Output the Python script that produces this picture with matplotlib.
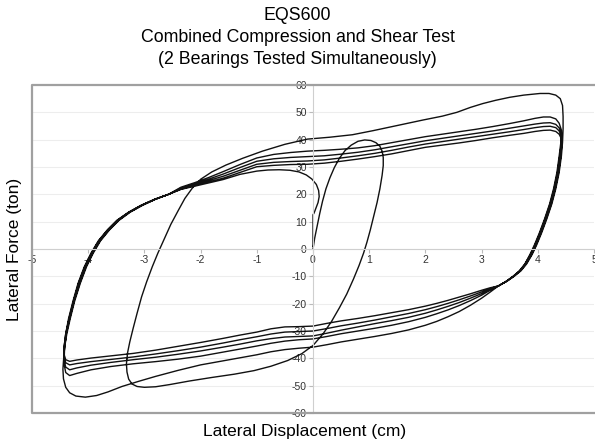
"""EQS600 combined compression and shear test - hysteresis loops."""

import matplotlib

matplotlib.use("Agg")
import matplotlib.pyplot as plt
import numpy as np

plt.rcParams["font.family"] = ["Liberation Sans", "DejaVu Sans"]
plt.rcParams["axes.unicode_minus"] = False

# first small cycle from the origin, back to -3.3 cm, then the first big push
inner_disp = [0.0, 0.03, 0.07, 0.12, 0.17, 0.23, 0.3, 0.38, 0.47, 0.57, 0.68, 0.8,
              0.92, 1.03, 1.12, 1.19, 1.23, 1.25, 1.25, 1.23, 1.19, 1.14, 1.08, 1.02,
              0.96, 0.9, 0.82, 0.72, 0.6, 0.47, 0.33, 0.18, 0.0, -0.2, -0.45, -0.75,
              -1.05, -1.4, -1.8, -2.2, -2.55, -2.8, -3.0, -3.13, -3.22, -3.28, -3.31,
              -3.32, -3.3, -3.26, -3.2, -3.13, -3.05, -2.96, -2.86, -2.76, -2.65,
              -2.53, -2.4, -2.28, -2.15, -2.0, -1.8, -1.55, -1.25, -0.9, -0.5, -0.1,
              0.3, 0.7, 1.07, 1.5, 1.96, 2.3, 2.56, 2.8, 3.02, 3.25, 3.5, 3.75, 4.04,
              4.2, 4.32, 4.4, 4.44, 4.45, 4.45]
inner_force = [0.0, 4.0, 8.0, 13.0, 17.5, 22.0, 26.0, 29.8, 33.2, 36.0, 38.0, 39.4,
               39.9, 39.7, 38.9, 37.6, 35.8, 33.5, 30.5, 27.0, 22.0, 17.0, 12.0, 7.0,
               2.5, -1.5, -6.0, -11.0, -16.5, -21.5, -26.5, -31.0, -35.3, -38.3, -40.8,
               -42.9, -44.5, -45.8, -47.0, -48.3, -49.6, -50.4, -50.6, -50.3, -49.4,
               -47.6, -45.0, -42.0, -38.0, -34.0, -29.0, -23.5, -17.5, -12.0, -6.5,
               -1.5, 3.5, 9.0, 14.0, 18.5, 22.2, 25.5, 28.2, 30.7, 33.2, 35.8, 38.3,
               40.2, 40.9, 41.8, 43.3, 45.2, 47.2, 48.6, 50.0, 51.8, 53.2, 54.4, 55.5,
               56.3, 56.9, 56.9, 56.3, 55.0, 52.5, 48.5, 44.0]

# unloading drop at the right end (shared shape)
desc_force = [39.0, 34.0, 28.0, 22.0, 16.5, 11.0, 6.0, 1.5, -2.0, -5.5, -8.0, -10.0,
              -11.8, -13.5]
c1_desc_disp = [4.44, 4.42, 4.38, 4.32, 4.25, 4.16, 4.07, 3.98, 3.90, 3.80, 3.70, 3.58,
                3.45, 3.30]
c2_desc_disp = [4.43, 4.41, 4.37, 4.31, 4.24, 4.15, 4.06, 3.97, 3.89, 3.79, 3.69, 3.57,
                3.45, 3.30]
c3_desc_disp = [4.42, 4.40, 4.36, 4.30, 4.23, 4.14, 4.05, 3.96, 3.88, 3.78, 3.68, 3.57,
                3.44, 3.30]
c4_desc_disp = [4.42, 4.39, 4.35, 4.29, 4.22, 4.13, 4.04, 3.95, 3.87, 3.77, 3.68, 3.56,
                3.44, 3.30]
c5_desc_disp = [4.41, 4.38, 4.34, 4.28, 4.21, 4.12, 4.03, 3.94, 3.86, 3.77, 3.67, 3.56,
                3.44, 3.30]

# lower branches, right to left
c1_low_disp = [3.15, 3.0, 2.8, 2.6, 2.4, 2.2, 2.0, 1.7, 1.4, 1.1, 0.8, 0.5, 0.25, 0.0,
               -0.25, -0.5, -0.75, -1.0, -1.3, -1.6, -2.0, -2.4, -2.8, -3.1, -3.4,
               -3.65, -3.85, -4.05, -4.22, -4.33, -4.4, -4.44, -4.45, -4.44]
c1_low_force = [-15.8, -18.0, -20.6, -22.9, -24.8, -26.5, -27.9, -29.6, -30.9, -32.0,
                -33.0, -34.0, -35.0, -35.9, -36.3, -36.8, -37.6, -38.7, -39.8, -40.9,
                -42.4, -44.4, -46.6, -48.4, -50.3, -52.3, -53.6, -54.2, -53.8, -52.6,
                -50.6, -47.5, -44.0, -41.0]
low_disp = [3.15, 3.0, 2.8, 2.6, 2.4, 2.2, 2.0, 1.7, 1.4, 1.1, 0.8, 0.5, 0.25, 0.0,
            -0.25, -0.5, -0.75, -1.0, -1.3, -1.6, -2.0, -2.4, -2.8, -3.2, -3.6, -3.95,
            -4.2, -4.33, -4.4, -4.43]
c2_low_force = [-15.1, -16.9, -18.9, -20.7, -22.3, -23.7, -25.0, -26.6, -27.9, -29.0,
                -30.0, -31.0, -32.0, -32.9, -33.2, -33.7, -34.5, -35.5, -36.6, -37.7,
                -39.2, -40.3, -41.2, -42.0, -43.0, -44.2, -45.5, -46.3, -45.2, -42.0]
c3_low_force = [-14.8, -16.3, -18.0, -19.6, -21.0, -22.3, -23.5, -25.0, -26.2, -27.3,
                -28.5, -29.7, -30.8, -31.8, -32.0, -32.2, -32.8, -33.6, -34.8, -35.9,
                -37.3, -38.5, -39.6, -40.5, -41.5, -42.5, -43.5, -44.2, -43.2, -40.5]
c4_low_force = [-14.5, -15.7, -17.2, -18.6, -19.9, -21.1, -22.2, -23.6, -24.8, -26.0,
                -27.1, -28.1, -29.1, -30.0, -30.2, -30.4, -31.1, -32.1, -33.2, -34.4,
                -35.9, -37.2, -38.4, -39.5, -40.4, -41.2, -41.9, -42.4, -41.6, -39.5]
c5_low_force = [-14.2, -15.1, -16.4, -17.6, -18.8, -19.9, -20.9, -22.2, -23.3, -24.4,
                -25.4, -26.3, -27.2, -28.2, -28.4, -28.5, -29.2, -30.4, -31.5, -32.7,
                -34.2, -35.6, -37.0, -38.2, -39.1, -39.9, -40.6, -41.1, -40.5, -38.5]

# steep reloading from the left end (shared shape)
rise_force = [-36.0, -31.0, -25.5, -19.0, -12.5, -6.5, -1.5, 3.0, 7.0, 10.5, 13.5,
              16.0, 18.2, 20.0]
c2_rise_disp = [-4.42, -4.38, -4.32, -4.24, -4.14, -4.03, -3.91, -3.78, -3.62, -3.45,
                -3.25, -3.03, -2.80, -2.57]
c3_rise_disp = [-4.42, -4.39, -4.33, -4.25, -4.15, -4.04, -3.92, -3.79, -3.63, -3.46,
                -3.26, -3.04, -2.81, -2.57]
c4_rise_disp = [-4.43, -4.40, -4.34, -4.26, -4.17, -4.06, -3.94, -3.81, -3.65, -3.48,
                -3.27, -3.05, -2.81, -2.57]
c5_rise_disp = [-4.43, -4.40, -4.35, -4.27, -4.18, -4.07, -3.95, -3.82, -3.66, -3.49,
                -3.28, -3.06, -2.82, -2.57]
c6_rise_disp = [-4.42, -4.39, -4.34, -4.26, -4.17, -4.06, -3.94, -3.81, -3.65, -3.48,
                -3.27, -3.05, -2.81, -2.57]

# upper branches of the repeated cycles
up_disp = [-2.35, -2.1, -1.85, -1.6, -1.3, -1.0, -0.7, -0.4, -0.1, 0.2, 0.5, 0.8, 1.1,
           1.4, 1.7, 2.0, 2.3, 2.6, 2.9, 3.2, 3.5, 3.75, 3.95, 4.1, 4.22, 4.32, 4.38,
           4.42]
c2_up_force = [22.6, 24.3, 26.2, 28.3, 30.9, 33.3, 34.6, 35.3, 35.8, 36.1, 36.5, 37.0,
               37.8, 38.9, 40.0, 41.1, 42.0, 42.9, 43.8, 44.8, 45.9, 46.9, 47.8, 48.3,
               48.3, 47.6, 46.0, 43.5]
c3_up_force = [22.3, 23.9, 25.6, 27.4, 29.8, 32.1, 33.0, 33.5, 33.8, 34.1, 34.7, 35.4,
               36.3, 37.4, 38.5, 39.6, 40.5, 41.4, 42.3, 43.2, 44.2, 45.0, 45.7, 46.1,
               46.2, 45.6, 44.3, 42.3]
c4_up_force = [22.1, 23.6, 25.1, 26.6, 28.8, 31.0, 31.7, 32.0, 32.2, 32.6, 33.3, 34.1,
               35.0, 36.1, 37.3, 38.4, 39.3, 40.2, 41.1, 42.0, 42.9, 43.7, 44.4, 44.8,
               44.9, 44.4, 43.2, 41.3]
c5_up_force = [21.9, 23.3, 24.6, 25.9, 28.0, 30.1, 30.6, 30.9, 31.0, 31.4, 32.1, 32.9,
               33.8, 34.8, 36.0, 37.2, 38.0, 38.8, 39.7, 40.7, 41.6, 42.3, 43.0, 43.4,
               43.5, 43.0, 42.0, 40.3]

# last partial cycle, stopped near zero displacement
c6_end_disp = [-2.35, -2.1, -1.85, -1.6, -1.3, -1.0, -0.8, -0.6, -0.41, -0.25, -0.12,
               -0.02, 0.06, 0.1, 0.11, 0.09, 0.05, 0.02, 0.0, 0.0]
c6_end_force = [21.8, 23.0, 24.2, 25.4, 27.3, 28.5, 28.9, 29.0, 28.8, 28.2, 27.1, 25.6,
                23.6, 21.4, 19.2, 17.0, 14.8, 13.2, 12.5, 1.0]

segments = [
    (inner_disp, inner_force), (c1_desc_disp, desc_force), (c1_low_disp, c1_low_force),
    (c2_rise_disp, rise_force), (up_disp, c2_up_force), (c2_desc_disp, desc_force),
    (low_disp, c2_low_force),
    (c3_rise_disp, rise_force), (up_disp, c3_up_force), (c3_desc_disp, desc_force),
    (low_disp, c3_low_force),
    (c4_rise_disp, rise_force), (up_disp, c4_up_force), (c4_desc_disp, desc_force),
    (low_disp, c4_low_force),
    (c5_rise_disp, rise_force), (up_disp, c5_up_force), (c5_desc_disp, desc_force),
    (low_disp, c5_low_force),
    (c6_rise_disp, rise_force), (c6_end_disp, c6_end_force),
]
disp = np.concatenate([np.asarray(s[0], dtype=float) for s in segments])
force = np.concatenate([np.asarray(s[1], dtype=float) for s in segments])

fig = plt.figure(figsize=(5.95, 4.44), dpi=100)
ax = fig.add_axes([32 / 595, 31 / 444, 562 / 595, 328 / 444])

ax.plot(disp, force, color="#111111", lw=1.0, solid_joinstyle="round")

ax.set_xlim(-5, 5)
ax.set_ylim(-60, 60)
ax.set_xticks(np.arange(-5, 6, 1))
ax.set_yticks(np.arange(-60, 61, 10))
for y in np.arange(-50, 60, 10):
    ax.axhline(y, color="#ededed", lw=0.8, zorder=0)

for side in ("top", "right"):
    ax.spines[side].set_visible(False)
ax.spines["left"].set_position(("data", 0))
ax.spines["bottom"].set_position(("data", 0))
for side in ("left", "bottom"):
    ax.spines[side].set_color("#cfcfcf")
    ax.spines[side].set_linewidth(0.8)
ax.tick_params(axis="both", direction="out", length=3, width=0.8, color="#bbbbbb",
               labelsize=7.5, labelcolor="#333333", pad=1.5)

# plot area frame (top, left, bottom)
ax.plot([1, 0, 0, 1], [1, 1, 0, 0], transform=ax.transAxes, color="#a0a0a0",
        lw=1.6, clip_on=False, zorder=5)

fig.text(0.5, 1 - 15 / 444, "EQS600", ha="center", va="center", fontsize=12.8)
fig.text(0.5, 1 - 38 / 444, "Combined Compression and Shear Test", ha="center",
         va="center", fontsize=12.8)
fig.text(0.5, 1 - 59 / 444, "(2 Bearings Tested Simultaneously)", ha="center",
         va="center", fontsize=12.8)
fig.text(305 / 595, 1 - 431 / 444, "Lateral Displacement (cm)", ha="center",
         va="center", fontsize=12.5)
fig.text(15 / 595, 1 - 249 / 444, "Lateral Force (ton)", ha="center", va="center",
         rotation=90, fontsize=12.5)

fig.savefig("out.png", dpi=100)
